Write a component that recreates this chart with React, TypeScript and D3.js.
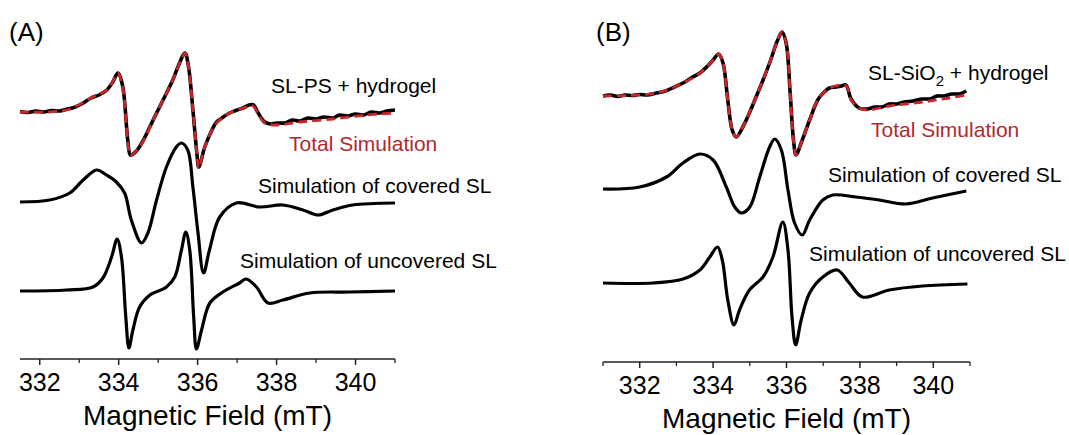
import React from 'react';
import * as d3 from 'd3';

type Pt = [number, number];

const majorTicks = [332, 334, 336, 338, 340];
const minorTicksA = [333, 335, 337, 339, 341];
const minorTicksB = [331, 333, 335, 337, 339, 341];
const axisTitle = 'Magnetic Field (mT)';

// Panel A: field (mT), signal relative to each trace's baseline (a.u.)
const expA: Pt[] = [
  [331.5, 0.5], [331.7, -0.5], [331.9, 1], [332.1, 0], [332.3, 1.5], [332.5, 1], [332.7, 3],
  [332.9, 5], [333.1, 9], [333.3, 14], [333.5, 17], [333.7, 22], [333.85, 30], [333.98, 39],
  [334.1, 26], [334.23, -28], [334.3, -43], [334.45, -39], [334.6, -30], [334.8, -14],
  [334.96, -1], [335.15, 14], [335.37, 32], [335.5, 45], [335.68, 59], [335.77, 45],
  [335.88, 2], [335.98, -41], [336.03, -55], [336.18, -35], [336.35, -19], [336.48, -10],
  [336.65, -5], [336.81, -1], [337.0, 2], [337.15, 4], [337.3, 7], [337.42, 7], [337.52, 0],
  [337.7, -10], [337.85, -12], [338.0, -11], [338.2, -11], [338.4, -8], [338.58, -9],
  [338.8, -6], [339.0, -7], [339.2, -5], [339.42, -6], [339.6, -3], [339.8, -4], [340.0, -2],
  [340.2, -3], [340.4, 0], [340.6, -1], [340.8, 1], [341.0, 2],
];
const totalSimA: Pt[] = [
  [331.5, 0], [332.68, 2], [333.34, 15], [333.7, 22], [333.9, 34], [333.98, 39], [334.1, 25],
  [334.23, -28], [334.3, -43], [334.53, -35], [334.96, -1], [335.37, 32], [335.6, 54],
  [335.68, 59], [335.77, 45], [335.88, 2], [335.98, -41], [336.03, -56], [336.18, -35],
  [336.48, -11], [336.81, -1], [337.24, 5], [337.4, 6], [337.52, -1], [337.7, -11],
  [338.0, -13], [338.58, -10], [339.42, -7], [340.28, -3], [341.0, -1],
];
const coveredA: Pt[] = [
  [331.5, 0], [332.25, 2], [332.76, 9], [333.1, 22], [333.44, 32], [333.69, 27], [333.94, 20],
  [334.15, 9], [334.32, -18], [334.58, -41], [334.74, -31], [334.96, 2], [335.21, 35],
  [335.46, 55], [335.59, 59], [335.75, 52], [335.88, 15], [336.01, -31], [336.15, -71],
  [336.3, -48], [336.56, -15], [336.98, -1], [337.57, -5], [338.16, -3], [338.67, -8],
  [339.05, -13], [339.43, -8], [339.93, -3], [341.0, -1],
];
const uncoveredA: Pt[] = [
  [331.5, 0], [332.68, 1], [333.35, 4], [333.6, 13], [333.82, 34], [333.96, 52], [334.07, 34],
  [334.18, -26], [334.26, -57], [334.36, -39], [334.53, -16], [334.79, -4], [335.21, 4],
  [335.42, 14], [335.59, 41], [335.7, 59], [335.8, 41], [335.9, -26], [335.97, -58],
  [336.1, -39], [336.31, -12], [336.64, -1], [337.06, 8], [337.23, 12], [337.49, 4],
  [337.78, -12], [338.16, -9], [338.84, -2], [339.85, -1], [341.0, 0],
];

// Panel B
const expB: Pt[] = [
  [331.0, 0], [331.2, 1], [331.4, -0.5], [331.6, 1], [331.8, 0.5], [332.0, 1.5], [332.2, 1],
  [332.46, 3], [332.7, 5], [332.95, 9], [333.18, 13], [333.4, 18], [333.64, 23], [333.85, 30],
  [334.0, 36], [334.15, 42], [334.27, 33], [334.4, -4], [334.52, -34], [334.63, -41],
  [334.81, -31], [335.0, -16], [335.17, -1], [335.35, 15], [335.54, 33], [335.76, 56],
  [335.88, 64], [335.99, 53], [336.1, 3], [336.19, -44], [336.26, -59], [336.4, -47],
  [336.63, -24], [336.85, -4], [337.0, 3], [337.17, 8], [337.35, 9], [337.5, 10], [337.62, 11],
  [337.76, -3], [337.98, -12], [338.2, -13], [338.4, -11], [338.6, -11], [338.8, -8],
  [339.0, -8], [339.2, -6], [339.45, -5], [339.7, -3], [339.9, -3], [340.1, 0], [340.3, 0],
  [340.5, 2], [340.7, 2], [340.9, 5],
];
const totalSimB: Pt[] = [
  [331.0, 0], [332.46, 3], [333.18, 13], [333.64, 23], [333.95, 34], [334.15, 42], [334.27, 33],
  [334.4, -4], [334.52, -34], [334.63, -41], [334.81, -31], [335.17, -1], [335.54, 33],
  [335.76, 56], [335.88, 64], [335.99, 53], [336.1, 3], [336.19, -44], [336.26, -59],
  [336.4, -47], [336.63, -24], [336.85, -4], [337.17, 8], [337.62, 10], [337.76, -4],
  [337.98, -12], [338.21, -14], [338.8, -10], [339.7, -6], [340.43, -2], [340.9, 1],
];
const coveredB: Pt[] = [
  [331.0, 0], [332.0, 2], [332.73, 12], [333.18, 26], [333.64, 35], [334.0, 29], [334.36, 2],
  [334.59, -18], [334.77, -24], [335.0, -18], [335.27, 12], [335.54, 42], [335.68, 50],
  [335.86, 39], [336.04, -1], [336.22, -34], [336.43, -46], [336.63, -31], [336.99, -11],
  [337.26, -6], [337.89, -8], [338.53, -11], [339.25, -15], [339.98, -9], [340.9, -2],
];
const uncoveredB: Pt[] = [
  [331.0, 0], [332.36, 0], [333.18, 4], [333.64, 13], [333.91, 26], [334.12, 36], [334.25, 23],
  [334.4, -17], [334.57, -42], [334.72, -27], [334.99, -7], [335.36, 6], [335.63, 26],
  [335.9, 61], [336.04, 33], [336.15, -34], [336.25, -62], [336.4, -37], [336.63, -10],
  [336.99, 6], [337.38, 13], [337.71, 0], [338.07, -14], [338.8, -7], [339.7, -3], [340.93, -1],
];

const panelLetters = ['(A)', '(B)'];
const sampleNames = ['SL-PS', 'SL-SiO'];
const totalLabel = 'Total Simulation';
const coveredLabel = 'Simulation of covered SL';
const uncoveredLabel = 'Simulation of uncovered SL';

const FONT = '"Liberation Sans", Arial, Helvetica, sans-serif';
const RED = '#c8262b';
const LABEL_SIZE = 21;

interface PanelProps {
  letter: string;
  sample: React.ReactNode;
  xDomain: [number, number];
  xRange: [number, number];
  axisY: number;
  offsets: [number, number, number];
  exp: Pt[];
  total: Pt[];
  covered: Pt[];
  uncovered: Pt[];
  minor: number[];
  letterPos: [number, number];
  samplePos: [number, number];
  totalPos: [number, number];
  coveredPos: [number, number];
  uncoveredPos: [number, number];
}

function Panel(p: PanelProps) {
  const x = d3.scaleLinear().domain(p.xDomain).range(p.xRange);
  const y = d3.scaleLinear().domain([0, 340]).range([p.axisY, p.axisY - 340]);
  const mk = (off: number) =>
    d3
      .line<Pt>()
      .x((d) => x(d[0]))
      .y((d) => y(d[1] + off))
      .curve(d3.curveCatmullRom.alpha(0.5));
  const [oTop, oCov, oUnc] = p.offsets;
  const midX = (p.xRange[0] + p.xRange[1]) / 2;
  return (
    <g>
      <text x={p.letterPos[0]} y={p.letterPos[1]} fontSize={26} fontFamily={FONT} fill="#000">
        {p.letter}
      </text>
      <path d={mk(oTop)(p.exp) || ''} fill="none" stroke="#000" strokeWidth={3.6} strokeLinejoin="round" />
      <path
        d={mk(oTop)(p.total) || ''}
        fill="none"
        stroke={RED}
        strokeWidth={2.8}
        strokeDasharray="9 5"
        strokeLinejoin="round"
      />
      <path d={mk(oCov)(p.covered) || ''} fill="none" stroke="#000" strokeWidth={3.2} strokeLinejoin="round" />
      <path d={mk(oUnc)(p.uncovered) || ''} fill="none" stroke="#000" strokeWidth={3.2} strokeLinejoin="round" />
      <text x={p.samplePos[0]} y={p.samplePos[1]} fontSize={LABEL_SIZE} fontFamily={FONT} fill="#000">
        {p.sample}
      </text>
      <text x={p.totalPos[0]} y={p.totalPos[1]} fontSize={LABEL_SIZE} fontFamily={FONT} fill="#b02a2e">
        {totalLabel}
      </text>
      <text x={p.coveredPos[0]} y={p.coveredPos[1]} fontSize={LABEL_SIZE} fontFamily={FONT} fill="#000">
        {coveredLabel}
      </text>
      <text x={p.uncoveredPos[0]} y={p.uncoveredPos[1]} fontSize={LABEL_SIZE} fontFamily={FONT} fill="#000">
        {uncoveredLabel}
      </text>
      <line x1={p.xRange[0]} x2={p.xRange[1]} y1={p.axisY} y2={p.axisY} stroke="#222" strokeWidth={1.5} />
      {majorTicks.map((t) => (
        <g key={'M' + t}>
          <line x1={x(t)} x2={x(t)} y1={p.axisY} y2={p.axisY + 6} stroke="#222" strokeWidth={1.5} />
          <text
            x={x(t)}
            y={p.axisY + 32}
            textAnchor="middle"
            fontSize={25}
            fontFamily={FONT}
            fill="#000"
          >
            {t}
          </text>
        </g>
      ))}
      {p.minor.map((t) => (
        <line key={'m' + t} x1={x(t)} x2={x(t)} y1={p.axisY} y2={p.axisY + 4} stroke="#222" strokeWidth={1.3} />
      ))}
      <text x={midX} y={p.axisY + 66} textAnchor="middle" fontSize={28} fontFamily={FONT} fill="#000">
        {axisTitle}
      </text>
    </g>
  );
}

export default function App() {
  return (
    <svg
      width={1069}
      height={435}
      viewBox="0 0 1069 435"
      style={{ position: 'absolute', left: 0, top: 0, background: '#fff' }}
    >
      <rect width={1069} height={435} fill="#fff" />
      <Panel
        letter={panelLetters[0]}
        sample={<>{sampleNames[0]} + hydrogel</>}
        xDomain={[331.5, 341]}
        xRange={[20, 395]}
        axisY={359}
        offsets={[247, 157, 68]}
        exp={expA}
        total={totalSimA}
        covered={coveredA}
        uncovered={uncoveredA}
        minor={minorTicksA}
        letterPos={[9, 41]}
        samplePos={[271, 93]}
        totalPos={[289, 151]}
        coveredPos={[258, 193]}
        uncoveredPos={[240, 268]}
      />
      <Panel
        letter={panelLetters[1]}
        sample={
          <>
            {sampleNames[1]}
            <tspan fontSize={15} dy={6}>2</tspan>
            <tspan dy={-6}> + hydrogel</tspan>
          </>
        }
        xDomain={[331, 341]}
        xRange={[603, 970]}
        axisY={362}
        offsets={[266, 173, 79]}
        exp={expB}
        total={totalSimB}
        covered={coveredB}
        uncovered={uncoveredB}
        minor={minorTicksB}
        letterPos={[596, 41]}
        samplePos={[868, 80]}
        totalPos={[871, 137]}
        coveredPos={[828, 182]}
        uncoveredPos={[809, 261]}
      />
    </svg>
  );
}
